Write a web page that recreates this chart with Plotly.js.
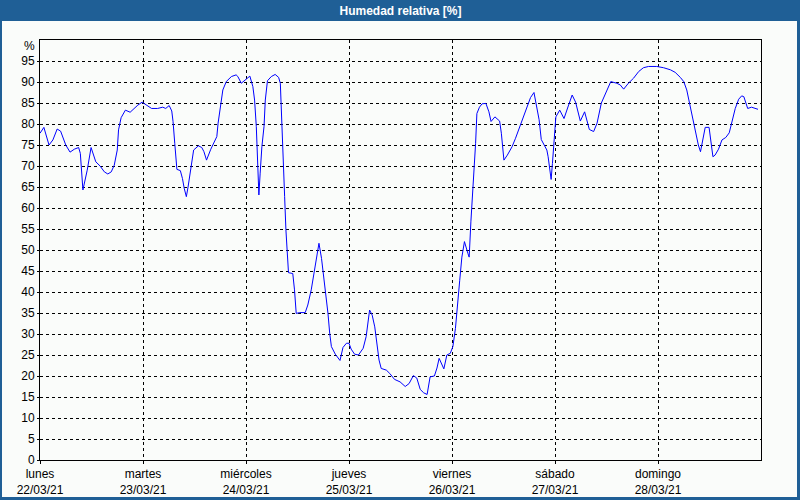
<!DOCTYPE html>
<html>
<head>
<meta charset="utf-8">
<script src="https://cdn.plot.ly/plotly-3.0.1.min.js"></script>
<style>
  html, body { margin: 0; padding: 0; background: #1f5f96; }
  #chart { width: 800px; height: 500px; }
</style>
</head>
<body>
<div id="chart"></div>
<script>
// Hours since Monday 22/03/21 00:00
const hours = [0,0.9,2.1,3,4,4.8,6,7,8,9,9.4,9.7,10,11,11.9,13,14,15,15.8,16.6,17.3,18,18.3,18.9,19.9,21,22.8,23.8,
  24.7,26,27.4,28.6,29.3,30.1,30.7,31,31.4,31.9,32.7,33.2,33.6,34.1,34.5,35.2,35.8,36.9,37.7,38.2,38.8,39.8,40.6,41.2,41.5,
  42.1,42.6,43.4,44.6,45.7,46.1,46.9,47.7,48.9,49.6,50,50.4,50.8,51,51.3,51.7,52.2,52.5,53,53.9,54.8,55.6,56,56.4,56.7,
  57,57.3,57.6,57.9,58.9,59.3,59.7,60.5,61.8,62.4,63.2,64,65,65.6,66.3,67.1,67.5,67.9,68.8,69.9,70.6,71.4,72,72.5,73.3,
  74.2,75.3,76,76.8,77.4,78,78.5,79,79.5,80.7,81.5,82.6,83.9,85.1,86,87,87.8,88.6,89.4,90.2,90.9,91.9,92.5,93,94.1,94.8,
  95.6,96.2,96.8,97.4,97.8,98.3,98.9,99.7,100,100.4,100.8,101.1,101.5,101.8,102.4,103,103.9,104.6,105.1,106,107.1,107.5,
  107.8,108.1,108.9,110,110.8,112,113.3,114.3,115.1,115.6,116.3,116.8,117.4,118.1,118.4,118.8,119.1,119.4,119.8,120.2,
  121.1,122.1,123.1,124,124.8,125.3,125.9,126.9,127.4,128,129,129.8,130.8,131.8,133,134.4,135.2,136,137.1,138.3,139.5,
  140.6,141.8,143.7,145.3,146.9,148,149.2,150,150.7,151.3,151.9,152.7,153.4,153.9,154.4,155,155.9,156.4,156.8,157.3,
  158.1,158.9,159.8,160.6,161.2,162,162.8,163.5,164,164.4,164.9,165.8,166.6,167.3];

const humidity = [77.8,79.2,75,76.2,78.8,78.3,75,73.3,74,74.4,73,68.3,64.3,69,74.4,71,70,68.6,68.1,68.6,70.2,73.8,78.6,81.5,83.3,82.8,84.5,85.2,
  84.5,83.7,83.7,84,83.7,84.4,83.1,80.6,75.4,69.2,68.9,67,64.7,62.7,65,69.8,73.8,74.8,74.4,73.4,71.4,74,75.8,77,80.2,
  84.9,88.1,90.1,91.3,91.7,91.3,89.7,90.3,91.4,88.9,85.7,79.4,70.6,63.1,68.3,74.6,79.4,85.7,90.3,91.3,91.8,91.1,89.7,80.2,73.8,
  62.7,54.8,50,44.6,44.4,40.5,34.9,35.1,35.1,36.9,40.5,45.2,51.6,48,42.1,34.9,30.2,27,25.2,23.7,26.8,27.8,27.8,26.4,25.2,
  25,26.6,29.4,35.7,34.5,31.7,27.8,23.8,21.8,21.4,20.6,19.2,18.6,17.5,18.2,20.1,19.5,16.8,16,15.6,19.8,20,21.9,24.2,21.7,25,
  25.4,27,31.3,37.3,42.8,48.3,52,49.2,48.3,56.7,62.7,68.3,75.4,82.5,84,84.8,84.9,82.9,80.6,81.7,80.7,77.8,
  73.8,71.4,72.6,74.6,76.6,80,83.7,86.3,87.5,84.5,81,76.3,75,73.8,72.2,69.4,66.8,70.6,77,81.7,
  83.3,81.3,84.3,86.9,85.2,83.3,80.7,82.9,81,78.7,78.2,80.2,85,87.3,90.1,89.7,89.3,88.3,89.7,90.9,92.5,
  93.4,93.7,93.7,93.4,92.9,92.3,91.1,90.1,88.1,85,82.2,78.6,75,73.4,76.2,79.2,79.2,75.4,72.2,72.6,
  74,76.2,76.8,77.9,80.2,83.7,85.9,86.7,86.5,85,83.7,84,83.7,83.5];

const dayNames = ['lunes','martes','miércoles','jueves','viernes','sábado','domingo'];
const dayDates = ['22/03/21','23/03/21','24/03/21','25/03/21','26/03/21','27/03/21','28/03/21'];
const dayStartHours = [0,24,48,72,96,120,144];
const yTicks = [0,5,10,15,20,25,30,35,40,45,50,55,60,65,70,75,80,85,90,95];

const FONT = 'Liberation Sans, Arial, sans-serif';
const BG = '#fafcfa';
const FRAME = '#1f5f96';

// plot area: x 40..761, y 40..460 (px)
const L = 40, R = 39, T = 40, B = 40, W = 800, H = 500;
const pw = W - L - R, ph = H - T - B;
const px = v => (v - L) / pw;
const py = v => (H - B - v) / ph;

const trace = {
  x: hours, y: humidity, type: 'scatter', mode: 'lines',
  line: {color: '#0000ff', width: 1}, hoverinfo: 'skip', showlegend: false
};

const layout = {
  width: W, height: H,
  margin: {l: L, r: R, t: T, b: B, pad: 0},
  paper_bgcolor: FRAME,
  plot_bgcolor: BG,
  font: {family: FONT, size: 12, color: '#000'},
  title: {
    text: '<b>Humedad relativa [%]</b>',
    font: {family: FONT, size: 12, color: '#ffffff'},
    x: 0.5, xanchor: 'center', xref: 'paper',
    y: 1 - 10.5 / H, yref: 'container', yanchor: 'middle'
  },
  xaxis: {
    range: [0, 168], fixedrange: true,
    tickmode: 'array', tickvals: dayStartHours,
    ticktext: dayNames.map((d, i) => d + '<br>' + dayDates[i]),
    showgrid: true, gridcolor: '#000', gridwidth: 1, griddash: '3px,3px',
    showline: true, linecolor: '#000', linewidth: 1, mirror: true,
    ticks: 'outside', ticklen: 3, tickcolor: '#000',
    tickfont: {family: FONT, size: 12, color: '#000'},
    zeroline: false
  },
  yaxis: {
    range: [0, 100], fixedrange: true,
    tickmode: 'array', tickvals: yTicks,
    showgrid: true, gridcolor: '#000', gridwidth: 1, griddash: '3px,3px',
    showline: true, linecolor: '#000', linewidth: 1, mirror: true,
    ticks: 'outside', ticklen: 2, tickcolor: '#000',
    tickfont: {family: FONT, size: 12, color: '#000'},
    zeroline: false
  },
  shapes: [{
    type: 'rect', xref: 'paper', yref: 'paper', layer: 'below',
    x0: px(2), x1: px(797), y0: py(497), y1: py(21),
    fillcolor: BG, line: {width: 0}
  }],
  annotations: [{
    text: '%', xref: 'paper', yref: 'paper',
    x: px(37), y: py(46), xanchor: 'right', yanchor: 'middle',
    showarrow: false, font: {family: FONT, size: 12, color: '#000'}
  }]
};

Plotly.newPlot('chart', [trace], layout, {staticPlot: true, displayModeBar: false});
</script>
</body>
</html>
